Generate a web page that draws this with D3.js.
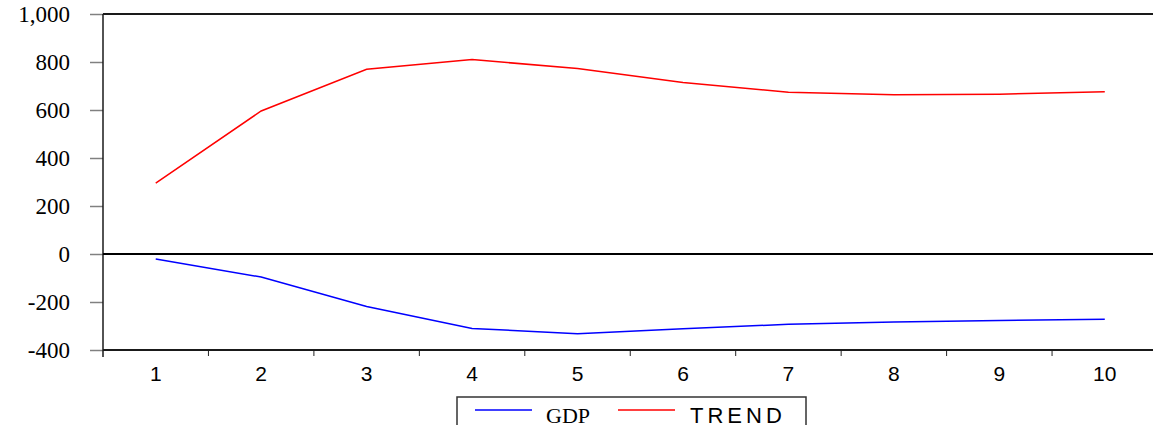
<!DOCTYPE html>
<html>
<head>
<meta charset="utf-8">
<script src="https://cdn.jsdelivr.net/npm/d3@7"></script>
<style>
  body { margin: 0; background: #fff; }
  svg { display: block; }
</style>
</head>
<body>
<div id="chart"></div>
<script>
// Data
let periods = ["1", "2", "3", "4", "5", "6", "7", "8", "9", "10"]
let gdp = [-21, -96, -219, -310, -332, -311, -293, -283, -277, -272]
let trend = [295, 596, 770, 810, 773, 715, 674, 664, 666, 676]
let yTicks = [-400, -200, 0, 200, 400, 600, 800, 1000]

let W = 1153, H = 425
let margin = {top: 14, left: 103, bottom: 75}
let plotW = 1054.5,
  plotH = H - margin.top - margin.bottom;

let serif = "'Liberation Serif', 'Times New Roman', serif"
let sans = "'Liberation Sans', Arial, sans-serif"
let fmt = d => d3.format(",")(d).replace("\u2212", "-")

let svg = d3.select("#chart")
.append("svg")
  .attr("width", W)
  .attr("height", H)

let g = svg.append("g")
  .attr("transform", "translate(" + margin.left + "," + margin.top + ")");

let x = d3.scaleBand()
  .domain(periods)
  .range([0, plotW])

let y = d3.scaleLinear()
  .domain([-400, 1000])
  .range([plotH, 0])

// y axis: gray ticks only, labels drawn separately
let yAxis = g.append("g")
  .call(d3.axisLeft(y).tickValues(yTicks).tickSize(13).tickFormat(""))
yAxis.select(".domain").remove()
yAxis.selectAll("line").attr("stroke", "#808080").attr("stroke-width", 1.5)

g.append("g").selectAll("text")
  .data(yTicks)
  .enter().append("text")
  .attr("x", -33)
  .attr("y", d => y(d) + 8)
  .attr("text-anchor", "end")
  .style("font-family", serif)
  .style("font-size", "23px")
  .text(fmt)

// x axis: ticks at band boundaries, labels at centres
let xAxis = g.append("g")
  .attr("transform", "translate(0," + plotH + ")")
xAxis.selectAll("line.tk")
  .data(periods.slice(1))
  .enter().append("line")
  .attr("class", "tk")
  .attr("x1", d => x(d)).attr("x2", d => x(d))
  .attr("y1", 0).attr("y2", 6)
  .attr("stroke", "#222").attr("stroke-width", 1)
xAxis.selectAll("text")
  .data(periods)
  .enter().append("text")
  .attr("x", d => x(d) + x.bandwidth() / 2)
  .attr("y", 31)
  .attr("text-anchor", "middle")
  .style("font-family", sans)
  .style("font-size", "21px")
  .text(d => d)

// frame
g.append("line")
  .attr("x1", 0).attr("x2", plotW + 10)
  .attr("y1", 0).attr("y2", 0)
  .attr("stroke", "#1a1a1a").attr("stroke-width", 2)
g.append("line")
  .attr("x1", 0).attr("x2", plotW + 10)
  .attr("y1", plotH).attr("y2", plotH)
  .attr("stroke", "#1a1a1a").attr("stroke-width", 2)
g.append("line")
  .attr("x1", 0).attr("x2", 0)
  .attr("y1", 0).attr("y2", plotH + 7)
  .attr("stroke", "#1a1a1a").attr("stroke-width", 1.5)

// zero line
g.append("line")
  .attr("x1", 0).attr("x2", plotW)
  .attr("y1", y(0)).attr("y2", y(0))
  .attr("stroke", "#000").attr("stroke-width", 2)

let line = d3.line()
  .x((d, i) => x(periods[i]) + x.bandwidth() / 2)
  .y(d => y(d))

g.append("path")
  .datum(gdp)
  .attr("d", line)
  .attr("fill", "none")
  .attr("stroke", "#0000ff")
  .attr("stroke-width", 1.5)

g.append("path")
  .datum(trend)
  .attr("d", line)
  .attr("fill", "none")
  .attr("stroke", "#ff0000")
  .attr("stroke-width", 1.5)

// legend
let legend = svg.append("g")
legend.append("rect")
  .attr("x", 457).attr("y", 397)
  .attr("width", 349).attr("height", 40)
  .attr("fill", "#fff")
  .attr("stroke", "#333").attr("stroke-width", 1.5)

let items = [
  {name: "GDP", color: "#0000ff", x: 475, tx: 546, font: serif, ls: 0},
  {name: "TREND", color: "#ff0000", x: 618, tx: 690, font: sans, ls: 4}
]
items.forEach(function(it) {
  legend.append("line")
    .attr("x1", it.x).attr("x2", it.x + 57)
    .attr("y1", 410).attr("y2", 410)
    .attr("stroke", it.color).attr("stroke-width", 1.5)
  legend.append("text")
    .attr("x", it.tx).attr("y", 423)
    .style("font-family", it.font)
    .style("font-size", "22px")
    .style("letter-spacing", it.ls + "px")
    .text(it.name)
})
</script>
</body>
</html>
